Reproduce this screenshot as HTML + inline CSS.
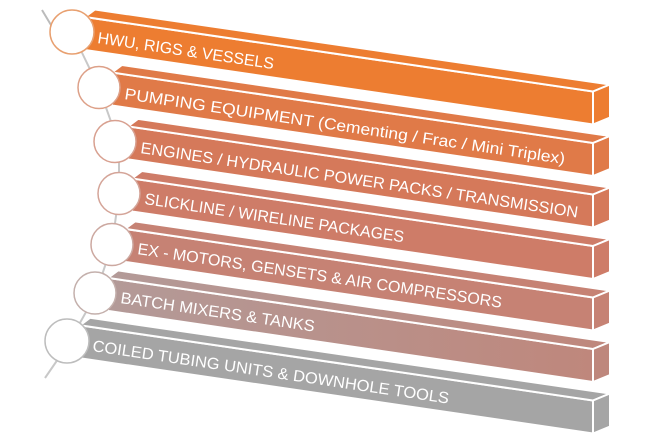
<!DOCTYPE html>
<html><head><meta charset="utf-8"><style>
html,body{margin:0;padding:0;background:#fff;width:645px;height:442px;overflow:hidden}
text{font-family:"Liberation Sans",sans-serif;font-size:16px;fill:#fff}
</style></head><body>
<svg width="645" height="442" viewBox="0 0 645 442" xmlns="http://www.w3.org/2000/svg">
<defs>
<linearGradient id="g5" x1="0" x2="1"><stop offset="0" stop-color="#B39A98"/><stop offset="1" stop-color="#BF877C"/></linearGradient>
</defs>
<line x1="42" y1="10" x2="60" y2="40" stroke="#bbb" stroke-width="2"/>
<polyline points="72,32 99,88 119,144 119,194 112,245 95,296 67,346 45,378" fill="none" stroke="#c8c8c8" stroke-width="2"/>
<g stroke="#fff" stroke-width="2" stroke-linejoin="miter">
<g fill="#ED7D31">
<polygon points="85,17 593,91.5 593,124.5 85,50"/>
<polygon points="85,17 95,9.5 610,84.5 593,91.5"/>
<polygon points="593,91.5 610,84.5 610,117.5 593,124.5"/>
</g>
<g transform="translate(0,51.5)" fill="#E07A48">
<polygon points="112,21 593,91.5 593,124.5 112,54"/>
<polygon points="112,21 122,13.5 610,84.5 593,91.5"/>
<polygon points="593,91.5 610,84.5 610,117.5 593,124.5"/>
</g>
<g transform="translate(0,103)" fill="#D5795A">
<polygon points="128,23.4 593,91.5 593,124.5 128,56.4"/>
<polygon points="128,23.4 138,15.9 610,84.5 593,91.5"/>
<polygon points="593,91.5 610,84.5 610,117.5 593,124.5"/>
</g>
<g transform="translate(0,154.5)" fill="#CE7C68">
<polygon points="132,24 593,91.5 593,124.5 132,57"/>
<polygon points="132,24 142,16.5 610,84.5 593,91.5"/>
<polygon points="593,91.5 610,84.5 610,117.5 593,124.5"/>
</g>
<g transform="translate(0,206)" fill="#C68274">
<polygon points="125,22.9 593,91.5 593,124.5 125,55.9"/>
<polygon points="125,22.9 135,15.4 610,84.5 593,91.5"/>
<polygon points="593,91.5 610,84.5 610,117.5 593,124.5"/>
</g>
<g transform="translate(0,257.5)" fill="url(#g5)">
<polygon points="108,20.4 593,91.5 593,124.5 108,53.4"/>
<polygon points="108,20.4 118,12.9 610,84.5 593,91.5"/>
<polygon points="593,91.5 610,84.5 610,117.5 593,124.5" fill="#BE877C"/>
</g>
<g transform="translate(0,309)" fill="#A5A5A5">
<polygon points="80,16.3 593,91.5 593,124.5 80,49.3"/>
<polygon points="80,16.3 90,8.8 610,84.5 593,91.5"/>
<polygon points="593,91.5 610,84.5 610,117.5 593,124.5"/>
</g>
</g>
<g fill="#fff" stroke-width="1.5">
<circle cx="72" cy="32" r="22" stroke="#E8A070"/>
<circle cx="99" cy="87.5" r="21" stroke="#DDA088"/>
<circle cx="115" cy="141.5" r="21" stroke="#D8A090"/>
<circle cx="119" cy="193.5" r="21" stroke="#D4A498"/>
<circle cx="112" cy="244.5" r="21" stroke="#CCA8A0"/>
<circle cx="95" cy="293" r="21" stroke="#C4B0AC"/>
<circle cx="67" cy="341" r="22" stroke="#BDBDBD"/>
</g>
<g>
<text transform="translate(97,43) rotate(8.4)" textLength="178" lengthAdjust="spacingAndGlyphs">HWU, RIGS &amp; VESSELS</text>
<text transform="translate(124,99) rotate(8.4)" textLength="445" lengthAdjust="spacingAndGlyphs">PUMPING EQUIPMENT (Cementing / Frac / Mini Triplex)</text>
<text transform="translate(140,153) rotate(8.4)" textLength="442" lengthAdjust="spacingAndGlyphs">ENGINES / HYDRAULIC POWER PACKS / TRANSMISSION</text>
<text transform="translate(144,204) rotate(8.4)" textLength="262" lengthAdjust="spacingAndGlyphs">SLICKLINE / WIRELINE PACKAGES</text>
<text transform="translate(137,254) rotate(8.4)" textLength="368" lengthAdjust="spacingAndGlyphs">EX - MOTORS, GENSETS &amp; AIR COMPRESSORS</text>
<text transform="translate(120,303) rotate(8.4)" textLength="196" lengthAdjust="spacingAndGlyphs">BATCH MIXERS &amp; TANKS</text>
<text transform="translate(92,351) rotate(8.4)" textLength="360" lengthAdjust="spacingAndGlyphs">COILED TUBING UNITS &amp; DOWNHOLE TOOLS</text>
</g>
</svg>
</body></html>
